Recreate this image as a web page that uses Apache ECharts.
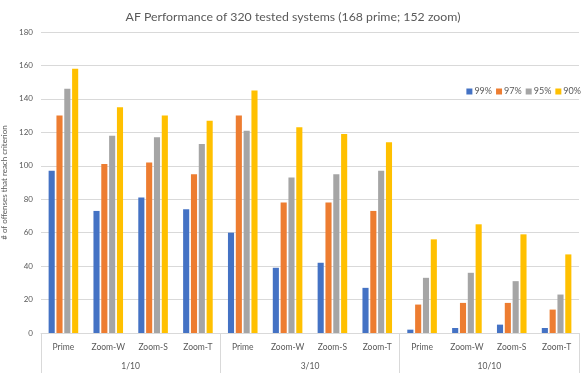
<!DOCTYPE html>
<html>
<head>
<meta charset="utf-8">
<script src="https://cdn.jsdelivr.net/npm/echarts@6/dist/echarts.min.js"></script>
<style>html,body{margin:0;padding:0;background:#fff}#c{width:586px;height:380px}</style>
</head>
<body>
<div id="c"></div>
<script>
const categories = ['Prime','Zoom-W','Zoom-S','Zoom-T','Prime','Zoom-W','Zoom-S','Zoom-T','Prime','Zoom-W','Zoom-S','Zoom-T'];
const groups = ['1/10','3/10','10/10'];
const seriesNames = ['99%','97%','95%','90%'];
const s99 = [97, 73, 81, 74, 60, 39, 42, 27, 2, 3, 5, 3];
const s97 = [130, 101, 102, 95, 130, 78, 78, 73, 17, 18, 18, 14];
const s95 = [146, 118, 117, 113, 121, 93, 95, 97, 33, 36, 31, 23];
const s90 = [158, 135, 130, 127, 145, 123, 119, 114, 56, 65, 59, 47];
const colors = ['#4472C4','#ED7D31','#A5A5A5','#FFC000'];
const FONT = 'Lato, "Liberation Sans", sans-serif';
const chart = echarts.init(document.getElementById('c'));
const data = [s99, s97, s95, s90];
chart.setOption({
  animation: false,
  color: colors,
  textStyle: {fontFamily: FONT, color: '#595959'},
  title: {
    text: 'AF Performance of 320 tested systems (168 prime; 152 zoom)',
    left: 'center', top: 6,
    textStyle: {fontFamily: FONT, fontSize: 12.3, fontWeight: 'normal', color: '#595959'}
  },
  legend: {
    data: seriesNames, right: 0, top: 82, itemWidth: 6, itemHeight: 6, itemGap: 4,
    icon: 'rect',
    textStyle: {fontFamily: FONT, fontSize: 9, color: '#595959', padding: [0,0,0,-3]}
  },
  grid: {left: 41, right: 7, top: 32, bottom: 47, containLabel: false, outerBoundsMode: 'none'},
  xAxis: [
    {
      type: 'category', data: categories, position: 'bottom',
      axisLine: {show: true, lineStyle: {color: '#D9D9D9'}},
      axisTick: {show: false},
      axisLabel: {interval: 0, fontSize: 8.5, color: '#595959', margin: 10, fontFamily: FONT}
    },
    {
      type: 'category', data: groups, position: 'bottom',
      axisLine: {show: false},
      axisTick: {show: true, length: 40, interval: 0, lineStyle: {color: '#D9D9D9'}},
      axisLabel: {interval: 0, fontSize: 8.5, color: '#595959', margin: 29, fontFamily: FONT}
    }
  ],
  yAxis: {
    type: 'value', min: 0, max: 180, interval: 20,
    name: '# of offenses that reach criterion', nameLocation: 'middle', nameGap: 28, nameRotate: 90,
    nameTextStyle: {fontSize: 8, color: '#595959', fontFamily: FONT},
    axisLine: {show: false}, axisTick: {show: false},
    axisLabel: {fontSize: 8, color: '#595959', margin: 8, fontFamily: FONT},
    splitLine: {lineStyle: {color: '#D9D9D9'}}
  },
  series: seriesNames.map((n, i) => ({
    name: n, type: 'bar', xAxisIndex: 0, data: data[i],
    barGap: '28%', barCategoryGap: '34%',
    itemStyle: {color: colors[i]}
  }))
});
</script>
</body>
</html>
